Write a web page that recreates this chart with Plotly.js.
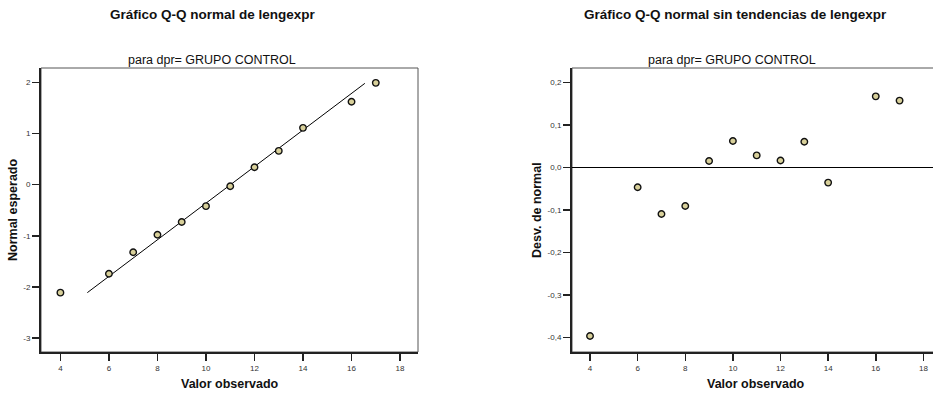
<!DOCTYPE html>
<html>
<head>
<meta charset="utf-8">
<script src="https://cdn.plot.ly/plotly-3.0.1.min.js"></script>
<style>
  html, body { margin: 0; padding: 0; overflow: hidden; background: #fff; }
  #chart { width: 945px; height: 393px; }
</style>
</head>
<body>
<div id="chart"></div>
<script>
// Observed values of lengexpr (GRUPO CONTROL)
const observed = [4, 6, 7, 8, 9, 10, 11, 12, 13, 14, 16, 17];
// Expected normal scores
const expectedNormal = [-2.11, -1.74, -1.32, -0.98, -0.73, -0.42, -0.03, 0.34, 0.66, 1.11, 1.62, 1.99];
// Deviation from normal (detrended)
const deviation = [-0.397, -0.047, -0.110, -0.091, 0.015, 0.062, 0.028, 0.016, 0.060, -0.036, 0.167, 0.157];
// Reference normal line endpoints
const refLineX = [5.11, 16.55];
const refLineY = [-2.11, 1.98];

// Tick labels
const xTicks = [4, 6, 8, 10, 12, 14, 16, 18];
const yTicksQQ = [2, 1, 0, -1, -2, -3];
const yTickTextQQ = ['2', '1', '0', '-1', '-2', '-3'];
const yTicksDev = [0.2, 0.1, 0.0, -0.1, -0.2, -0.3, -0.4];
const yTickTextDev = ['0,2', '0,1', '0,0', '-0,1', '-0,2', '-0,3', '-0,4'];

const W = 945, H = 393;
const FONT = 'Liberation Sans, Arial, Helvetica, sans-serif';
const markerStyle = {
  symbol: 'circle', size: 6.5, color: '#d8d09a',
  line: { color: '#111', width: 1.4 }
};

const traces = [
  {
    x: refLineX, y: refLineY, xaxis: 'x', yaxis: 'y',
    mode: 'lines', line: { color: '#000', width: 1 }, hoverinfo: 'skip'
  },
  {
    x: observed, y: expectedNormal, xaxis: 'x', yaxis: 'y',
    mode: 'markers', marker: markerStyle
  },
  {
    x: observed, y: deviation, xaxis: 'x2', yaxis: 'y2',
    mode: 'markers', marker: markerStyle
  }
];

const yDom = [1 - 352 / H, 1 - 68 / H];
const axisBase = {
  showgrid: false, zeroline: false, showline: true,
  linecolor: '#222', linewidth: 2,
  ticks: 'outside', ticklen: 7, tickwidth: 1.5, tickcolor: '#222',
  tickfont: { family: FONT, size: 8, color: '#333' },
  fixedrange: true
};

function label(text, x, y, size, angle) {
  return {
    text: text, xref: 'paper', yref: 'paper', x: x / W, y: 1 - y / H,
    showarrow: false, xanchor: 'center', yanchor: 'middle', textangle: angle || 0,
    font: { family: FONT, size: size, color: '#111' }
  };
}

const layout = {
  width: W, height: H,
  margin: { l: 0, r: 0, t: 0, b: 0 },
  paper_bgcolor: '#fff', plot_bgcolor: '#fff',
  showlegend: false,
  font: { family: FONT },
  xaxis: Object.assign({}, axisBase, {
    domain: [41 / W, 418 / W], range: [3.2, 18.74],
    tickmode: 'array', tickvals: xTicks, anchor: 'y'
  }),
  yaxis: Object.assign({}, axisBase, {
    domain: yDom, range: [-3.27, 2.28],
    tickmode: 'array', tickvals: yTicksQQ, ticktext: yTickTextQQ, anchor: 'x'
  }),
  xaxis2: Object.assign({}, axisBase, {
    domain: [572 / W, 941 / W], range: [3.243, 18.74],
    tickmode: 'array', tickvals: xTicks, anchor: 'y2'
  }),
  yaxis2: Object.assign({}, axisBase, {
    domain: yDom, range: [-0.4346, 0.2337],
    tickmode: 'array', tickvals: yTicksDev, ticktext: yTickTextDev, anchor: 'x2',
    zeroline: true, zerolinecolor: '#000', zerolinewidth: 1.5
  }),
  shapes: [
    { type: 'rect', xref: 'x domain', yref: 'y domain', x0: 0, x1: 1, y0: 0, y1: 1,
      line: { color: '#555', width: 1 }, layer: 'below' },
    { type: 'rect', xref: 'x2 domain', yref: 'y2 domain', x0: 0, x1: 1, y0: 0, y1: 1,
      line: { color: '#555', width: 1 }, layer: 'below' }
  ],
  annotations: [
    label('<b>Gráfico Q-Q normal de lengexpr</b>', 213, 15, 13.5),
    label('<b>Gráfico Q-Q normal sin tendencias de lengexpr</b>', 735, 15, 13.5),
    label('para dpr= GRUPO CONTROL', 212, 60, 12.5),
    label('para dpr= GRUPO CONTROL', 732, 60, 12.5),
    label('<b>Valor observado</b>', 229.5, 384, 12.5),
    label('<b>Valor observado</b>', 756, 384, 12.5),
    label('<b>Normal esperado</b>', 13, 210, 12.5, -90),
    label('<b>Desv. de normal</b>', 537, 210, 12.5, -90)
  ]
};

Plotly.newPlot('chart', traces, layout, { displayModeBar: false, staticPlot: true });
</script>
</body>
</html>
